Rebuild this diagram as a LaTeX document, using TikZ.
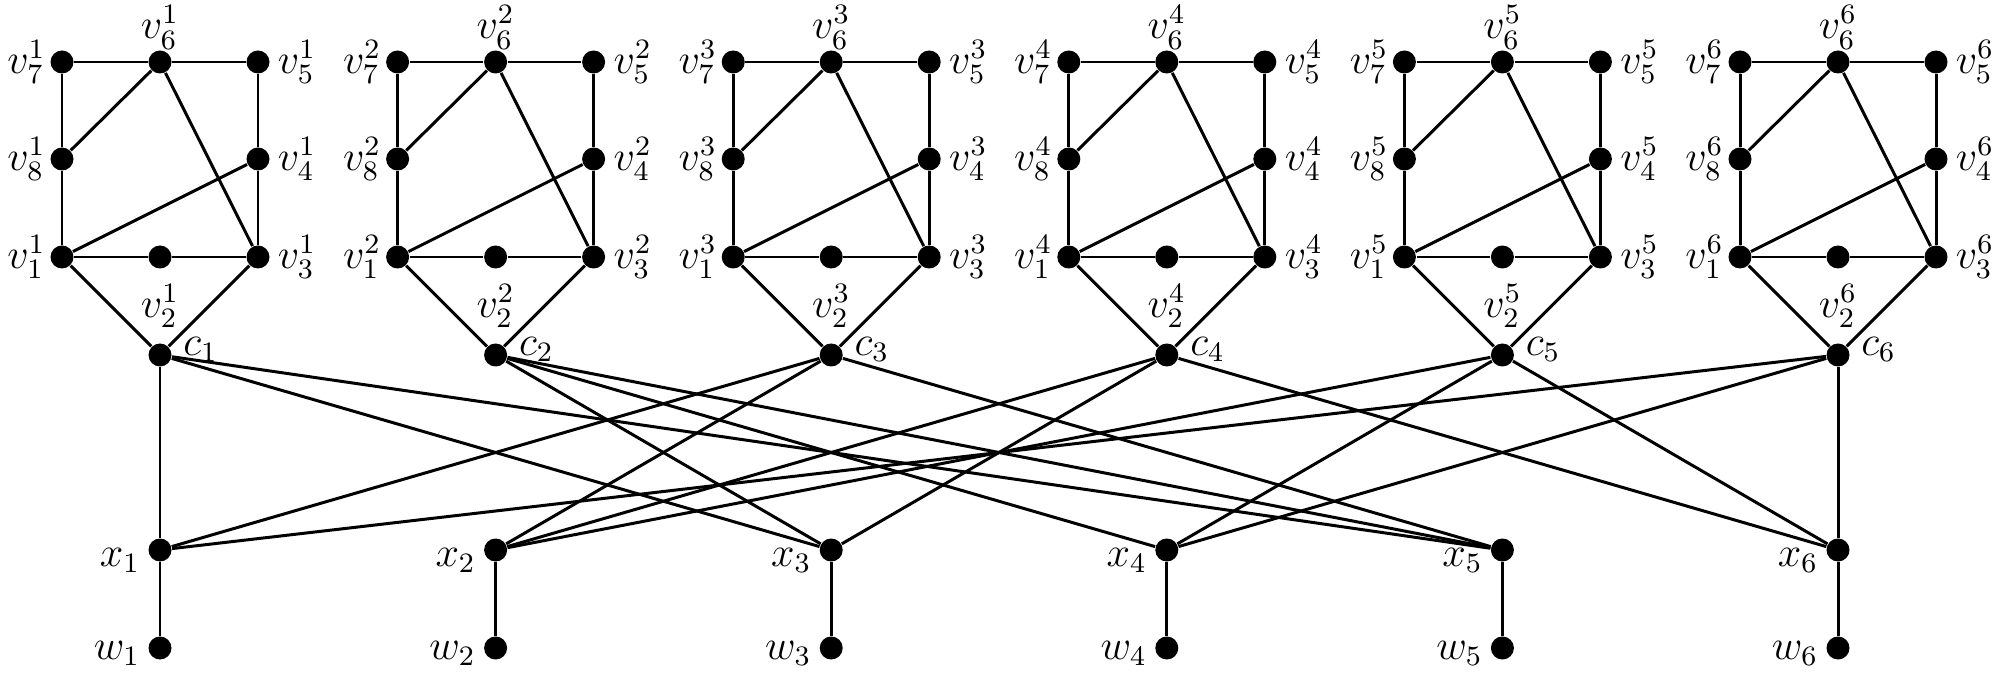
\documentclass[tikz,border=0pt]{standalone}
\usepackage{amsmath,amssymb}
\usepackage{tikz}

\begin{document}
\begin{tikzpicture}[
  vertex/.style={circle,fill=black,inner sep=0pt,minimum size=2.3mm},
  edge/.style={line width=0.85pt},
  every label/.append style={inner sep=1pt,font=\fontsize{12}{14}\selectfont}
]
  \useasboundingbox (0,0) rectangle (20,6.78);

  % one gadget per clause
  \foreach \j in {1,...,6} {
    \pgfmathsetmacro{\px}{1.60+3.356*(\j-1)}
    \node[vertex,label=left:$v_7^{\j}$]  (v7-\j) at (\px-0.98,6.16) {};
    \node[vertex,label={[label distance=-1pt]above:$v_6^{\j}$}] (v6-\j) at (\px,6.16) {};
    \node[vertex,label={[label distance=1pt]right:$v_5^{\j}$}] (v5-\j) at (\px+0.98,6.16) {};
    \node[vertex,label=left:$v_8^{\j}$]  (v8-\j) at (\px-0.98,5.19) {};
    \node[vertex,label={[label distance=1pt]right:$v_4^{\j}$}] (v4-\j) at (\px+0.98,5.19) {};
    \node[vertex,label=left:$v_1^{\j}$]  (v1-\j) at (\px-0.98,4.21) {};
    \node[vertex,label={[label distance=3pt]below:$v_2^{\j}$}] (v2-\j) at (\px,4.21) {};
    \node[vertex,label={[label distance=1pt]right:$v_3^{\j}$}] (v3-\j) at (\px+0.98,4.21) {};
    \node[vertex,label={[label distance=2pt,yshift=1.5pt]right:$c_{\j}$}] (c-\j) at (\px,3.23) {};
    \draw[edge] (v7-\j) -- (v6-\j) -- (v5-\j) -- (v4-\j) -- (v3-\j)
      -- (v2-\j) -- (v1-\j) -- (v8-\j) -- (v7-\j);
    \draw[edge] (v8-\j) -- (v6-\j) -- (v3-\j);
    \draw[edge] (v1-\j) -- (v4-\j);
    \draw[edge] (v1-\j) -- (c-\j) -- (v3-\j);
  }

  % variables
  \foreach \i in {1,...,6} {
    \pgfmathsetmacro{\px}{1.60+3.356*(\i-1)}
    \node[vertex,label={[label distance=1pt,yshift=-3pt]left:$x_{\i}$}] (x-\i) at (\px,1.28) {};
    \node[vertex,label={[label distance=1pt,yshift=-1.5pt]left:$w_{\i}$}] (w-\i) at (\px,0.30) {};
    \draw[edge] (x-\i) -- (w-\i);
  }

  % clause--variable incidences
  \foreach \j/\a/\b/\c in {1/1/3/5, 2/3/4/5, 3/1/2/5, 4/2/3/6, 5/2/4/6, 6/1/4/6} {
    \draw[edge] (c-\j) -- (x-\a);
    \draw[edge] (c-\j) -- (x-\b);
    \draw[edge] (c-\j) -- (x-\c);
  }
\end{tikzpicture}
\end{document}
